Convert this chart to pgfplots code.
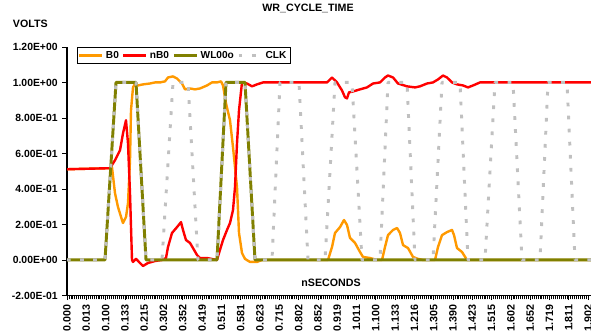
\documentclass[border=0pt]{standalone}
\usepackage{pgfplots}
\pgfplotsset{compat=1.18}
\usepackage{fontspec}
\setmainfont{Liberation Sans}
\definecolor{cB}{HTML}{FF9900}
\definecolor{cnB}{HTML}{FF0000}
\definecolor{cWL}{HTML}{808000}
\definecolor{cCLK}{HTML}{C0C0C0}
\begin{document}
\begin{tikzpicture}[font=\fontsize{8}{9.6}\selectfont\bfseries]
\useasboundingbox (-50.25pt,-29.6pt) rectangle (393pt,221.6pt);
\begin{axis}[
 scale only axis, width=393pt, height=186.4pt,
 anchor=south west, at={(0pt,0pt)},
 xmin=67, xmax=591, ymin=-0.2, ymax=1.2,
 axis x line*=bottom, axis y line*=left,
 axis line style={black, line width=0.8pt},
 tick style={black, line width=0.5pt},
 tick align=outside,
 major tick length=3.5pt, minor tick length=3pt,
 xtick={67,86.3,...,590},
 xticklabels={0.000,0.013,0.100,0.133,0.215,0.302,0.352,0.419,0.511,0.581,0.623,0.715,0.802,0.852,0.919,1.011,1.100,1.133,1.216,1.305,1.390,1.423,1.515,1.602,1.652,1.719,1.811,1.902},
 minor x tick num=9,
 xticklabel style={rotate=90, anchor=east, font=\fontsize{8}{9.6}\selectfont\bfseries},
 ytick={-0.2,0,0.2,0.4,0.6,0.8,1.0,1.2},
 yticklabels={-2.00E-01,0.00E+00,2.00E-01,4.00E-01,6.00E-01,8.00E-01,1.00E+00,1.20E+00},
 yticklabel style={font=\fontsize{7.8}{9}\selectfont\bfseries},
 xlabel={nSECONDS},
 xlabel style={at={(axis description cs:0.504,0.05)}, anchor=center, font=\fontsize{8}{9.6}\selectfont\bfseries},
 legend columns=4,
 legend image code/.code={\draw[#1] (0pt,0pt) -- (17pt,0pt);},
 legend style={at={(axis description cs:0.0186,1.0)}, anchor=north west, draw=black, line width=0.6pt,
   font=\fontsize{7.6}{9}\selectfont\bfseries, inner sep=0.8pt,
   /tikz/every even column/.append style={column sep=0.5pt}},
 every axis plot/.append style={line join=round},
]
\addplot[cB, line width=1.8pt] coordinates {
(67,0.511)(110,0.517)(112,0.522)(115,0.376)(118,0.298)(122,0.225)(123,0.208)(126,0.242)(128,0.320)(130,0.562)(131,0.843)(133,0.972)(135,0.994)(138,0.983)(143,0.989)(150,0.994)(155,1.0)(160,1.0)(165,1.006)(168,1.028)(173,1.034)(177,1.022)(182,0.994)(185,0.961)(190,0.966)(195,0.961)(200,0.966)(207,0.983)(212,1.0)(217,1.0)(221,1.006)(223,0.983)(226,0.882)(230,0.787)(233,0.635)(237,0.410)(239,0.152)(242,0.039)(245,0.006)(250,-0.011)(257,-0.011)(262,0)(328,0)(332,0.073)(335,0.152)(340,0.185)(344,0.225)(347,0.197)(350,0.124)(355,0.096)(360,0.045)(363,0.017)(370,0.011)(377,0)(382,0)(385,0.073)(388,0.140)(393,0.169)(397,0.180)(400,0.152)(403,0.084)(408,0.067)(413,0.017)(418,0.006)(423,0)(435,0)(438,0.073)(442,0.140)(447,0.157)(452,0.169)(454,0.140)(457,0.067)(462,0.045)(467,0)(591,0)
};
\addlegendentry{B0}
\addplot[cnB, line width=1.8pt] coordinates {
(67,0.511)(110,0.517)(115,0.562)(120,0.618)(123,0.713)(126,0.787)(128,0.657)(130,0.376)(132,0)(133,-0.011)(136,0.006)(140,-0.017)(143,-0.034)(148,-0.017)(155,-0.006)(162,0)(166,0.011)(168,0.073)(172,0.152)(177,0.185)(181,0.213)(183,0.169)(186,0.112)(190,0.096)(193,0.067)(197,0.028)(200,0.011)(207,0.011)(217,0)(219,0.039)(223,0.112)(227,0.169)(230,0.208)(233,0.281)(235,0.410)(237,0.657)(239,0.843)(242,1.0)(243,1.0)(247,0.994)(252,0.978)(257,0.989)(263,1.0)(327,1.0)(332,1.028)(337,1.0)(342,0.955)(345,0.916)(347,0.910)(349,0.944)(353,0.949)(360,0.961)(367,0.972)(373,0.994)(380,1.0)(385,1.028)(388,1.039)(393,1.028)(398,0.994)(407,0.978)(415,0.972)(420,0.978)(427,0.994)(433,1.0)(438,1.017)(443,1.039)(447,1.028)(452,1.0)(457,0.989)(463,0.983)(468,0.972)(473,0.983)(480,1.0)(591,1.0)
};
\addlegendentry{nB0}
\addplot[cWL, line width=2.2pt] coordinates {
(67,0)(105,0)(116,1)(136,1)(146,0)(217,0)(226,1)(245,1)(255,0)(591,0)
};
\addlegendentry{WL00o}
\addplot[cCLK, line width=2.2pt, dash pattern=on 2.8pt off 7pt] coordinates {
(67,0)(105,0)(116,1)(136,1)(146,0)(162,0)(173,1)(188,1)(198,0)(217,0)(226,1)(245,1)(255,0)(272,0)(280,1)(299,1)(308,0)(325,0)(335,1)(352,1)(362,0)(380,0)(388,1)(407,1)(415,0)(433,0)(442,1)(460,1)(468,0)(485,0)(495,1)(513,1)(522,0)(540,0)(548,1)(567,1)(575,0)(591,0)
};
\addlegendentry{CLK}
\end{axis}
\node[anchor=center, font=\fontsize{8}{9.6}\selectfont\bfseries] at (180.75pt,214.9pt) {WR\_CYCLE\_TIME};
\node[anchor=west, inner sep=0pt, font=\fontsize{8}{9.6}\selectfont\bfseries] at (-40.7pt,203.6pt) {VOLTS};
\end{tikzpicture}
\end{document}
